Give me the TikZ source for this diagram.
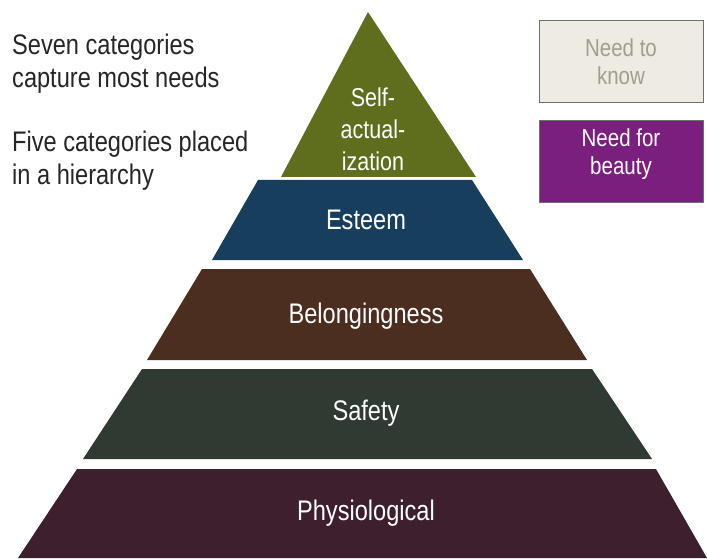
\documentclass[tikz,border=0pt]{standalone}
\usepackage{fontspec}
\setmainfont{Liberation Sans}
\definecolor{olive}{HTML}{5F6E1C}
\definecolor{esteemblue}{HTML}{173E5D}
\definecolor{belongbrown}{HTML}{4B2E1F}
\definecolor{safetygreen}{HTML}{2E3A32}
\definecolor{physio}{HTML}{3E1F2E}
\definecolor{beautypurple}{HTML}{7B1F7E}
\definecolor{knowbeige}{HTML}{EEEBE3}
\definecolor{knowtext}{HTML}{A19D93}
\definecolor{bordergray}{HTML}{6E6E6E}
\newcommand\stretchtxt[1]{\scalebox{1}[1.2]{#1}}
\tikzset{
  band/.style={line width=0.6pt},
  lbl/.style={text=white, inner sep=0pt, font=\fontsize{23.6}{26.7}\selectfont},
  sidetxt/.style={text=black!85, inner sep=0pt, anchor=base west, font=\fontsize{23.6}{26.7}\selectfont},
  needbox/.style={draw=bordergray, line width=0.8pt, minimum width=164pt, minimum height=82pt, anchor=north west, inner sep=0pt},
  needtxt/.style={inner sep=0pt, anchor=base, font=\fontsize{20.5}{23.3}\selectfont}
}
\begin{document}
\begin{tikzpicture}[x=1pt,y=-1pt]
\useasboundingbox (0,0) rectangle (707,559);
% pyramid
\fill[physio] (77,469) -- (656,469) -- (707,558) -- (18,558) -- cycle;
\fill[safetygreen] (142,369) -- (592,369) -- (652,459) -- (83,459) -- cycle;
\fill[belongbrown] (202,269) -- (530,269) -- (587,360) -- (147,360) -- cycle;
\fill[esteemblue] (258,180) -- (472,180) -- (523,260) -- (212,260) -- cycle;
\fill[olive] (368,12) -- (476,177) -- (281,177) -- cycle;
% labels
\node[lbl] (phys) at (366,513) {\stretchtxt{Physiological}};
\node[lbl] (safe) at (366,413) {\stretchtxt{Safety}};
\node[lbl] (belong) at (366,316) {\stretchtxt{Belongingness}};
\node[lbl] (esteem) at (366,220) {\stretchtxt{Esteem}};
\node[lbl, anchor=base, font=\fontsize{21.5}{26.3}\selectfont] (selfact) at (373,107)
  {\stretchtxt{\begin{tabular}[t]{@{}c@{}}Self-\\actual-\\ization\end{tabular}}};
% left text
\node[sidetxt] (seven) at (12,55)
  {\stretchtxt{\begin{tabular}[t]{@{}l@{}}Seven categories\\capture most needs\end{tabular}}};
\node[sidetxt] (five) at (12,152)
  {\stretchtxt{\begin{tabular}[t]{@{}l@{}}Five categories placed\\in a hierarchy\end{tabular}}};
% right boxes
\node[needbox, fill=knowbeige] (knowbox) at (539,20) {};
\node[needbox, fill=beautypurple] (beautybox) at (539,120) {};
\node[needtxt, text=knowtext] (knowtxt) at (621,57)
  {\stretchtxt{\begin{tabular}[t]{@{}c@{}}Need to\\know\end{tabular}}};
\node[needtxt, text=white] (beautytxt) at (621,147)
  {\stretchtxt{\begin{tabular}[t]{@{}c@{}}Need for\\beauty\end{tabular}}};
\end{tikzpicture}
\end{document}
